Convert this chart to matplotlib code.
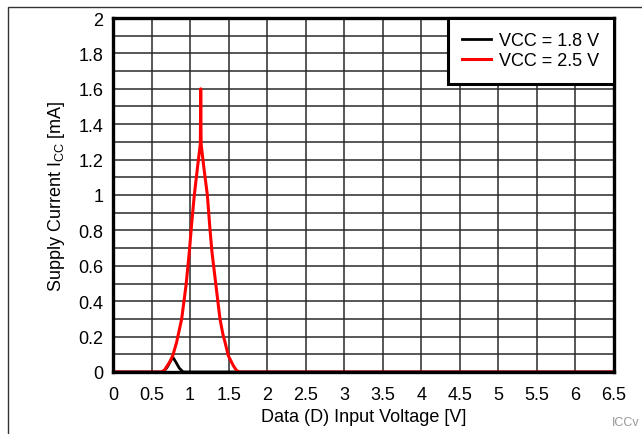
import matplotlib
matplotlib.use("Agg")
import matplotlib.pyplot as plt
from matplotlib.patches import Rectangle
import numpy as np

plt.rcParams['font.family'] = ['Liberation Sans', 'DejaVu Sans']

# Data
v_red = [0.0, 0.63, 0.67, 0.705, 0.74, 0.775, 0.826, 0.891, 0.947, 0.99, 1.021, 1.055, 1.1, 1.133,
         1.138, 1.143, 1.18, 1.224, 1.258, 1.284, 1.336, 1.388, 1.425, 1.453, 1.496, 1.561, 1.6, 1.64, 6.5]
i_red = [0.0, 0.0, 0.012, 0.036, 0.06, 0.092, 0.169, 0.3, 0.488, 0.678, 0.84, 1.0, 1.17, 1.29,
         1.6, 1.29, 1.15, 1.0, 0.808, 0.678, 0.488, 0.3, 0.215, 0.169, 0.092, 0.036, 0.01, 0.0, 0.0]
v_black = [0.0, 0.65, 0.7, 0.745, 0.775, 0.81, 0.86, 0.91, 6.5]
i_black = [0.0, 0.0, 0.025, 0.06, 0.085, 0.06, 0.022, 0.0, 0.0]
labels = ["VCC = 1.8 V", "VCC = 2.5 V"]
xticks = [0, 0.5, 1, 1.5, 2, 2.5, 3, 3.5, 4, 4.5, 5, 5.5, 6, 6.5]
xticklabels = ["0", "0.5", "1", "1.5", "2", "2.5", "3", "3.5", "4", "4.5", "5", "5.5", "6", "6.5"]
yticks = [0, 0.2, 0.4, 0.6, 0.8, 1, 1.2, 1.4, 1.6, 1.8, 2]
yticklabels = ["0", "0.2", "0.4", "0.6", "0.8", "1", "1.2", "1.4", "1.6", "1.8", "2"]

W, H = 642, 435
fig = plt.figure(figsize=(W / 100, H / 100), dpi=100)
ax = fig.add_axes([113 / W, 1 - 373 / H, (614 - 113) / W, (373 - 19) / H])

ax.plot(v_black, i_black, color='black', lw=2, label=labels[0], zorder=3)
ax.plot(v_red, i_red, color='#ff0000', lw=2.2, label=labels[1], zorder=4)

ax.set_xlim(0, 6.5)
ax.set_ylim(0, 2)
ax.set_xticks(xticks)
ax.set_xticklabels(xticklabels)
ax.set_yticks(yticks)
ax.set_yticklabels(yticklabels)
ax.set_yticks(np.arange(0.1, 2.0, 0.2), minor=True)
ax.tick_params(axis='x', which='both', length=0, labelsize=13, pad=10)
ax.tick_params(axis='y', which='both', length=0, labelsize=13, pad=7)
ax.grid(True, which='major', color='#2a2a2a', lw=1.1)
ax.grid(True, which='minor', axis='y', color='#2a2a2a', lw=1.1)
for s in ax.spines.values():
    s.set_linewidth(2.4)
    s.set_color('black')
    s.set_zorder(5)

ax.set_xlabel("Data (D) Input Voltage [V]", fontsize=13, labelpad=4)
ax.set_ylabel("Supply Current I$_{\\mathregular{CC}}$ [mA]", fontsize=13, labelpad=8)

leg = ax.legend(loc='upper right', fancybox=False, framealpha=1, edgecolor='black',
                fontsize=13, borderaxespad=0, handlelength=1.6, borderpad=0.8,
                labelspacing=0.15, handletextpad=0.45)
leg.get_frame().set_linewidth(2.2)
leg.set_zorder(6)

fig.patches.append(Rectangle((8 / W, -0.1), 2, 1 - 8 / H + 0.1, transform=fig.transFigure,
                             fill=False, edgecolor='#333333', lw=1))
fig.text(612 / W, 1 - 423 / H, "ICCv", fontsize=9, color='#999999', va='center', ha='left')

fig.savefig("out.png", dpi=100)
